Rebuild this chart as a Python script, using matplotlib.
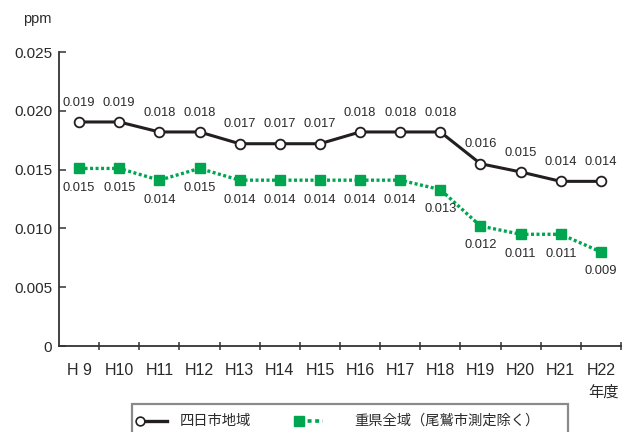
import numpy as np
import matplotlib
matplotlib.use("Agg")
import matplotlib.pyplot as plt
from matplotlib.lines import Line2D
from matplotlib.patches import Rectangle

# ---- data ----
years = ["H 9", "H10", "H11", "H12", "H13", "H14", "H15", "H16", "H17", "H18", "H19", "H20", "H21", "H22"]
yokkaichi = [0.01905, 0.01905, 0.0182, 0.0182, 0.0172, 0.0172, 0.0172, 0.0182, 0.0182, 0.0182, 0.0155, 0.0148, 0.0140, 0.0140]
yokkaichi_labels = ["0.019", "0.019", "0.018", "0.018", "0.017", "0.017", "0.017", "0.018", "0.018", "0.018", "0.016", "0.015", "0.014", "0.014"]
mie = [0.0151, 0.0151, 0.0141, 0.0151, 0.0141, 0.0141, 0.0141, 0.0141, 0.0141, 0.0133, 0.0102, 0.0095, 0.0095, 0.0080]
mie_labels = ["0.015", "0.015", "0.014", "0.015", "0.014", "0.014", "0.014", "0.014", "0.014", "0.013", "0.012", "0.011", "0.011", "0.009"]
yticks = [0, 0.005, 0.010, 0.015, 0.020, 0.025]
ytick_labels = ["0", "0.005", "0.010", "0.015", "0.020", "0.025"]
legend_names = ["四日市地域", "重県全域（尾鷲市測定除く）"]

LAT = ["Liberation Sans", "DejaVu Sans"]
CJK = ["Noto Sans CJK JP", "DejaVu Sans"]
TXT = "#2a2a2a"
GREEN = "#00a54f"
BLACK = "#231f20"

W, H = 633, 432
fig = plt.figure(figsize=(W / 100, H / 100), dpi=100)
ax = fig.add_axes([59 / W, 1 - 346 / H, (621 - 59) / W, (346 - 52) / H])

x = np.arange(len(years))
ax.plot(x, yokkaichi, color=BLACK, lw=2.2, marker="o", ms=7.0, mfc="white",
        mec=BLACK, mew=1.3, zorder=4)
ax.plot(x, mie, color=GREEN, lw=2.4, ls=(0, (0.9, 0.75)), marker="s", ms=7.4,
        mfc=GREEN, mec=GREEN, zorder=3)

for xi, v, s in zip(x, yokkaichi, yokkaichi_labels):
    ax.annotate(s, (xi, v), xytext=(0, 14), textcoords="offset points",
                ha="center", va="center", fontsize=9.3, family=LAT, color=TXT)
for xi, v, s in zip(x, mie, mie_labels):
    ax.annotate(s, (xi, v), xytext=(0, -14), textcoords="offset points",
                ha="center", va="center", fontsize=9.3, family=LAT, color=TXT)

ax.set_xlim(-0.5, len(years) - 0.5)
ax.set_ylim(0, 0.025)
ax.set_yticks(yticks)
ax.set_yticklabels(ytick_labels, family=LAT, fontsize=11, color=TXT)
ax.tick_params(axis="y", direction="in", length=5, width=1.1, color="#333333", pad=5)

ax.set_xticks(x)
ax.set_xticklabels(years, family=LAT, fontsize=11.5, color=TXT)
ax.set_xticks(np.arange(0.5, len(years), 1.0), minor=True)
ax.tick_params(axis="x", which="major", length=0, pad=12)
ax.tick_params(axis="x", which="minor", direction="inout", length=5.5, width=1.1, color="#333333")

for s in ["top", "right"]:
    ax.spines[s].set_visible(False)
for s in ["left", "bottom"]:
    ax.spines[s].set_color("#333333")
    ax.spines[s].set_linewidth(1.3)

fig.text(23 / W, 1 - 19 / H, "ppm", family=LAT, fontsize=10.5, color=TXT, ha="left", va="center")
fig.text(619 / W, 1 - 392 / H, "年度", family=CJK, fontsize=11, color=TXT, ha="right", va="center")

# ---- legend (bottom, box partly cut off) ----
def P(px, py):
    return (px / W, 1 - py / H)

box = Rectangle(P(132, 440), (568 - 132) / W, (440 - 404) / H, transform=fig.transFigure,
                fill=False, edgecolor="#8a8a8a", lw=1.6, clip_on=False)
fig.add_artist(box)
yl = 421
fig.add_artist(Line2D([P(143, yl)[0], P(167, yl)[0]], [P(0, yl)[1]] * 2, transform=fig.transFigure,
                      color=BLACK, lw=2.4))
fig.add_artist(Line2D([P(140, yl)[0]], [P(0, yl)[1]], transform=fig.transFigure, marker="o",
                      ms=6.3, mfc="white", mec=BLACK, mew=1.2, ls="none"))
fig.text(180 / W, 1 - yl / H, legend_names[0], family=CJK, fontsize=10.3, color=TXT, ha="left", va="center")
fig.add_artist(Line2D([P(300, yl)[0], P(323, yl)[0]], [P(0, yl)[1]] * 2, transform=fig.transFigure,
                      color=GREEN, lw=2.6, ls=(0, (1.1, 1.0))))
fig.add_artist(Line2D([P(299, yl)[0]], [P(0, yl)[1]], transform=fig.transFigure, marker="s",
                      ms=7.0, mfc=GREEN, mec=GREEN, ls="none"))
fig.text(354 / W, 1 - yl / H, legend_names[1], family=CJK, fontsize=10.3, color=TXT, ha="left", va="center")

fig.savefig("out.png", dpi=100)
